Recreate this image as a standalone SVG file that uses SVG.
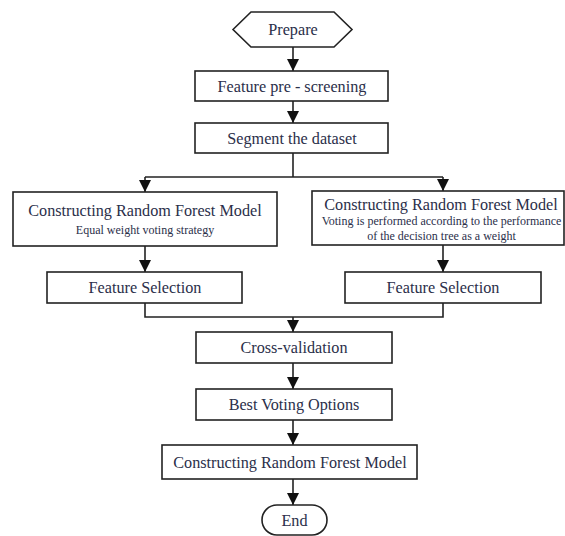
<svg xmlns="http://www.w3.org/2000/svg" width="565" height="536" viewBox="0 0 565 536">
<style>
.box{fill:#fff;stroke:#222;stroke-width:1.6}
.t{font-family:"Liberation Serif","Times New Roman",serif;fill:#2b2f4a;text-anchor:middle;font-size:16.2px}
.s{font-family:"Liberation Serif","Times New Roman",serif;fill:#2b2f4a;text-anchor:middle;font-size:12px}
.c{fill:none;stroke:#222;stroke-width:1.6}
</style>
<defs>
<marker id="ah" markerUnits="userSpaceOnUse" markerWidth="12" markerHeight="12" refX="12" refY="6" orient="auto" viewBox="0 0 12 12">
<path d="M0,0 L12,6 L0,12 z" fill="#111"/>
</marker>
</defs>
<rect width="565" height="536" fill="#fff"/>
<g id="connectors">
<path class="c" d="M293,47 V71" marker-end="url(#ah)"/>
<path class="c" d="M293,101 V123" marker-end="url(#ah)"/>
<path class="c" d="M293,153 V177"/>
<path class="c" d="M145,177 H443"/>
<path class="c" d="M145,177 V192" marker-end="url(#ah)"/>
<path class="c" d="M443,177 V191" marker-end="url(#ah)"/>
<path class="c" d="M145,246 V272" marker-end="url(#ah)"/>
<path class="c" d="M443,245 V272" marker-end="url(#ah)"/>
<path class="c" d="M145,303 V317 H443 V303"/>
<path class="c" d="M293,317 V332" marker-end="url(#ah)"/>
<path class="c" d="M293,363 V389" marker-end="url(#ah)"/>
<path class="c" d="M293,420 V445" marker-end="url(#ah)"/>
<path class="c" d="M293,479 V505" marker-end="url(#ah)"/>
</g>
<g id="prepare">
<polygon class="box" points="233,29.5 251,12 334,12 352,29.5 334,47 251,47"/>
<text class="t" x="293" y="35">Prepare</text>
</g>
<g id="prescreen">
<rect class="box" x="195" y="71" width="193" height="30"/>
<text class="t" x="292" y="91.5">Feature pre - screening</text>
</g>
<g id="segment">
<rect class="box" x="195" y="123" width="193" height="30"/>
<text class="t" x="292" y="143.5">Segment the dataset</text>
</g>
<g id="rf-left">
<rect class="box" x="13" y="192" width="264" height="54"/>
<text class="t" x="145" y="216">Constructing Random Forest Model</text>
<text class="s" x="145" y="234">Equal weight voting strategy</text>
</g>
<g id="rf-right">
<rect class="box" x="312" y="191" width="252" height="54"/>
<text class="t" x="441" y="210">Constructing Random Forest Model</text>
<text class="s" x="441.5" y="225">Voting is performed according to the performance</text>
<text class="s" x="441.5" y="240">of the decision tree as a weight</text>
</g>
<g id="fs-left">
<rect class="box" x="47" y="272" width="195" height="31"/>
<text class="t" x="145" y="293">Feature Selection</text>
</g>
<g id="fs-right">
<rect class="box" x="345" y="272" width="196" height="31"/>
<text class="t" x="443" y="293">Feature Selection</text>
</g>
<g id="cv">
<rect class="box" x="196" y="332" width="196" height="31"/>
<text class="t" x="294" y="353">Cross-validation</text>
</g>
<g id="best">
<rect class="box" x="196" y="389" width="196" height="31"/>
<text class="t" x="294" y="410">Best Voting Options</text>
</g>
<g id="rf-final">
<rect class="box" x="162" y="445" width="255" height="34"/>
<text class="t" x="290" y="467.5">Constructing Random Forest Model</text>
</g>
<g id="end">
<rect class="box" x="262" y="505" width="65" height="30" rx="15" ry="15"/>
<text class="t" x="294.5" y="525.5">End</text>
</g>
</svg>
